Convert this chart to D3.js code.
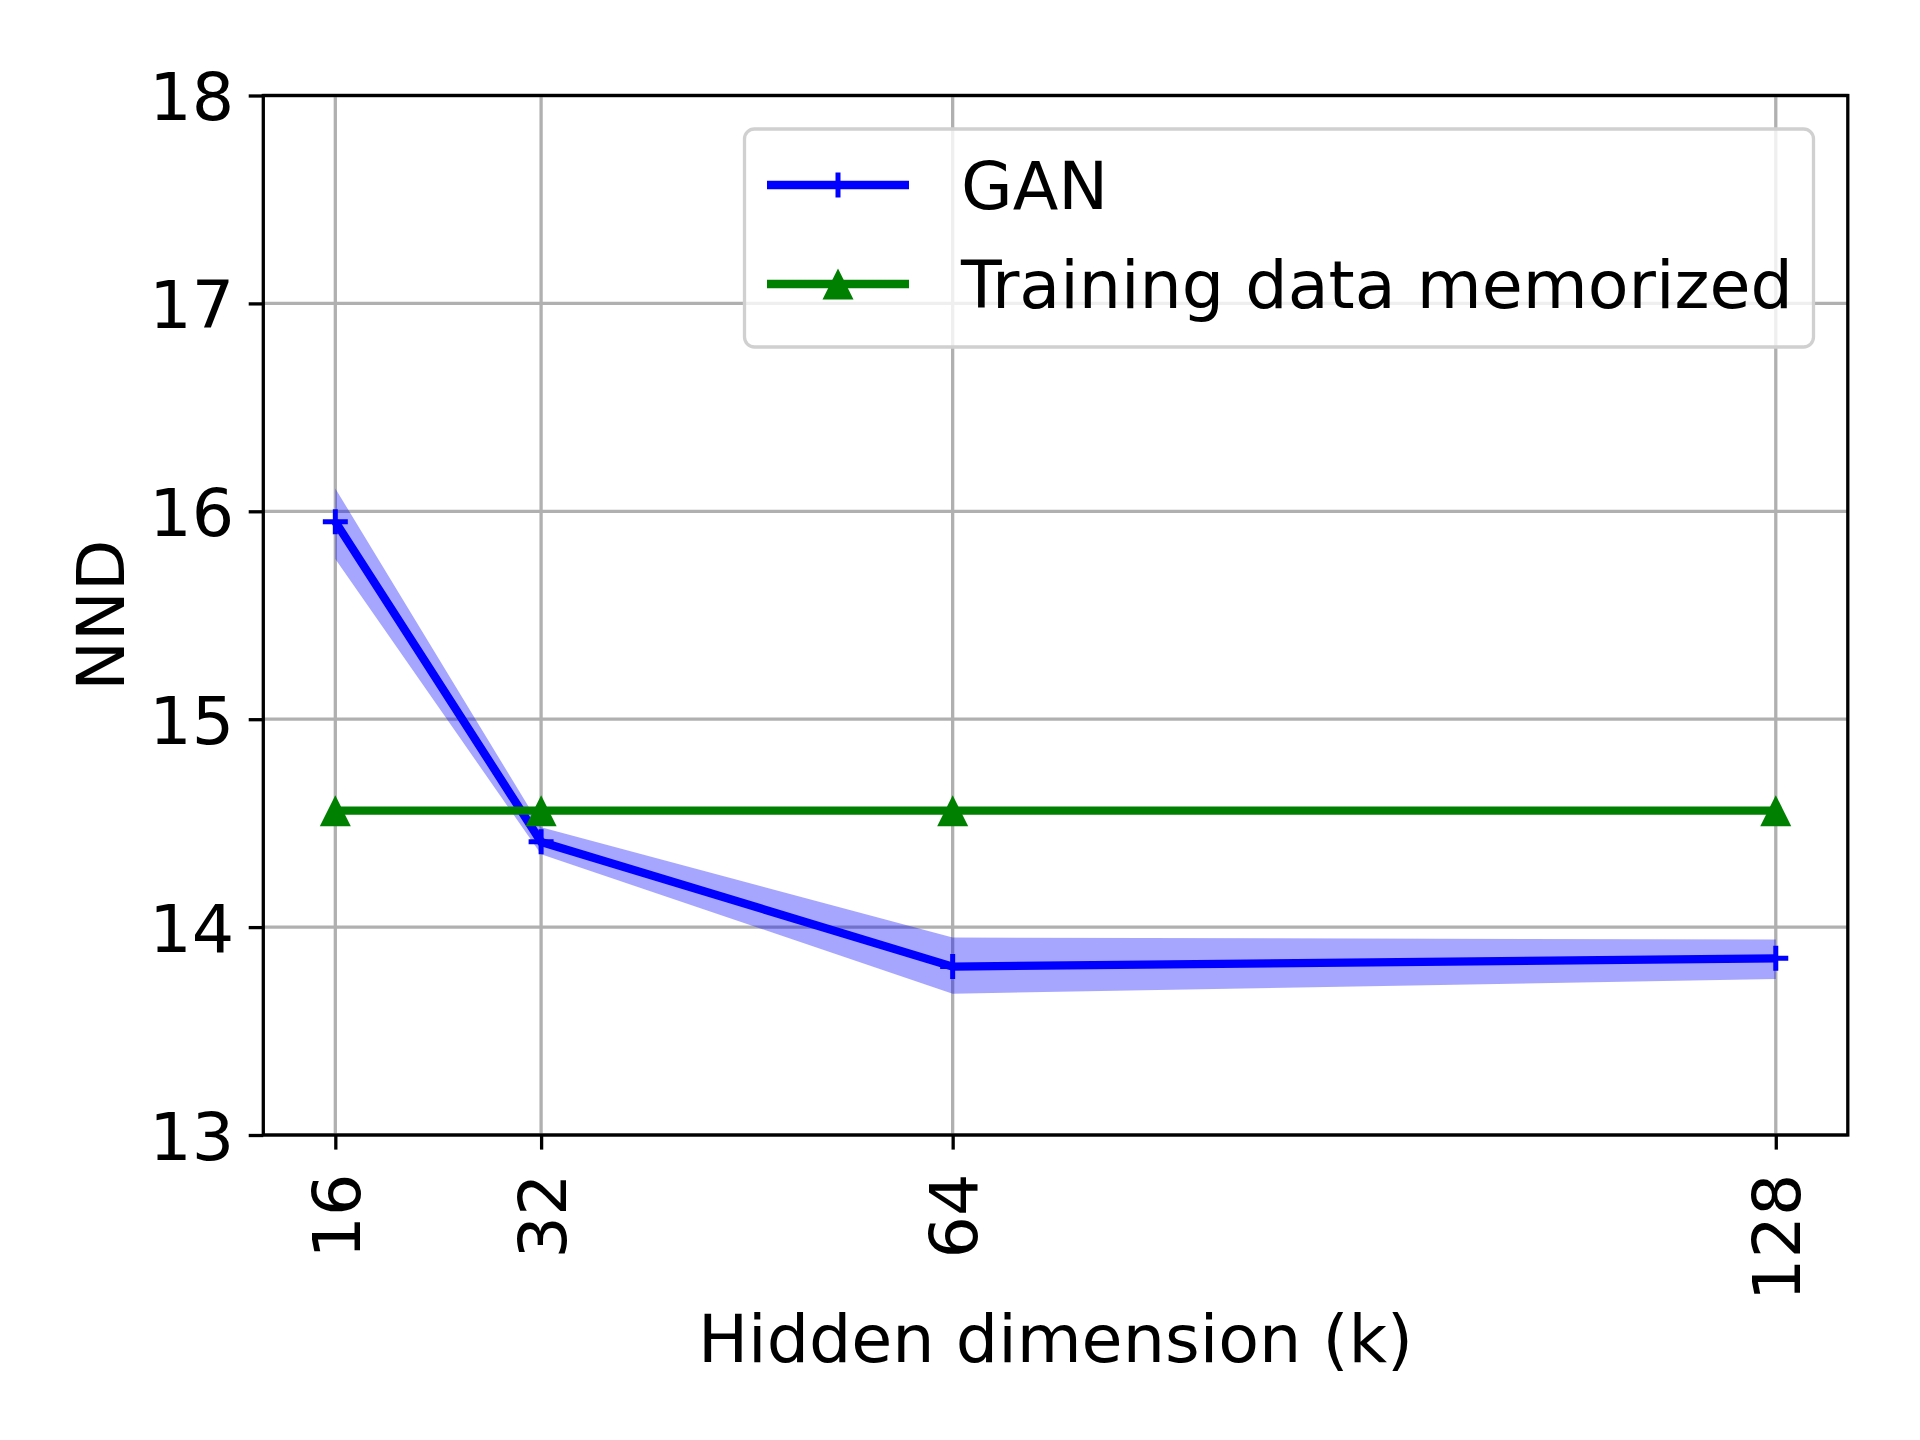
<!DOCTYPE html>
<html><head><meta charset="utf-8">
<script src="https://cdn.jsdelivr.net/npm/d3@7"></script>
<style>body{margin:0;background:#fff}svg{display:block}text{font-family:"DejaVu Sans",sans-serif}</style>
</head><body>
<script>
const hiddenDims = [16, 32, 64, 128];
const ganMean = [15.95, 14.41, 13.81, 13.85];
const ganUpper = [16.11, 14.48, 13.95, 13.94];
const ganLower = [15.77, 14.35, 13.68, 13.75];
const memorized = [14.56, 14.56, 14.56, 14.56];
const yTicks = [13, 14, 15, 16, 17, 18];
const seriesNames = ["GAN", "Training data memorized"];

const W = 1920, H = 1440;
const M = {left: 263.3, right: 1847.8, top: 95.5, bottom: 1135};
const svg = d3.select("body").append("svg").attr("width", W).attr("height", H);
const x = d3.scaleLinear().domain([10.4, 133.6]).range([M.left, M.right]);
const y = d3.scaleLinear().domain([13, 18]).range([M.bottom, M.top]);
const FS = 66.7, TL = 14.6, LW_AX = 3.3, LW = 8.3;

// grid
const g = svg.append("g");
g.selectAll(".gx").data(hiddenDims).join("line")
  .attr("x1", d => x(d)).attr("x2", d => x(d)).attr("y1", M.top).attr("y2", M.bottom)
  .attr("stroke", "#b0b0b0").attr("stroke-width", 3.3);
g.selectAll(".gy").data(yTicks).join("line")
  .attr("y1", d => y(d)).attr("y2", d => y(d)).attr("x1", M.left).attr("x2", M.right)
  .attr("stroke", "#b0b0b0").attr("stroke-width", 3.3);

svg.append("defs").append("clipPath").attr("id", "c").append("rect")
  .attr("x", M.left).attr("y", M.top).attr("width", M.right - M.left).attr("height", M.bottom - M.top);
const plot = svg.append("g").attr("clip-path", "url(#c)");

// band
const idx = hiddenDims.map((d, i) => i);
plot.append("path").datum(idx)
  .attr("d", d3.area().x(i => x(hiddenDims[i])).y0(i => y(ganLower[i])).y1(i => y(ganUpper[i])))
  .attr("fill", "#0000ff").attr("fill-opacity", 0.35).attr("stroke", "none");

// GAN line
plot.append("path").datum(idx)
  .attr("d", d3.line().x(i => x(hiddenDims[i])).y(i => y(ganMean[i])))
  .attr("fill", "none").attr("stroke", "#0000ff").attr("stroke-width", LW);
const plusSize = 25;
function plus(sel, cx, cy) {
  sel.append("path").attr("d", `M${cx - plusSize/2},${cy}H${cx + plusSize/2}M${cx},${cy - plusSize/2}V${cy + plusSize/2}`)
    .attr("stroke", "#0000ff").attr("stroke-width", 5).attr("fill", "none");
}
idx.forEach(i => plus(plot, x(hiddenDims[i]), y(ganMean[i])));

// memorized line
plot.append("path").datum(idx)
  .attr("d", d3.line().x(i => x(hiddenDims[i])).y(i => y(memorized[i])))
  .attr("fill", "none").attr("stroke", "#008000").attr("stroke-width", LW);
const triS = 31;
function tri(sel, cx, cy) {
  sel.append("path").attr("d", `M${cx},${cy - triS/2}L${cx + triS/2},${cy + triS/2}L${cx - triS/2},${cy + triS/2}Z`)
    .attr("fill", "#008000");
}
idx.forEach(i => tri(plot, x(hiddenDims[i]), y(memorized[i])));

// spines
svg.append("rect").attr("x", M.left).attr("y", M.top).attr("width", M.right - M.left).attr("height", M.bottom - M.top)
  .attr("fill", "none").attr("stroke", "#000").attr("stroke-width", LW_AX);

// y axis
const yAxis = d3.axisLeft(y).tickValues(yTicks).tickSize(TL).tickPadding(14.6).tickFormat(d3.format("d"));
const ya = svg.append("g").attr("transform", `translate(${M.left},0)`).call(yAxis);
ya.select(".domain").remove();
ya.selectAll("line").attr("stroke", "#000").attr("stroke-width", LW_AX);
ya.selectAll("text").attr("font-size", FS).attr("fill", "#000").attr("font-family", "DejaVu Sans").attr("dy", "0.36em");

// x axis
const xAxis = d3.axisBottom(x).tickValues(hiddenDims).tickSize(TL).tickPadding(0).tickFormat(d3.format("d"));
const xa = svg.append("g").attr("transform", `translate(0,${M.bottom})`).call(xAxis);
xa.select(".domain").remove();
xa.selectAll("line").attr("stroke", "#000").attr("stroke-width", LW_AX);
xa.selectAll("text").attr("font-size", FS).attr("fill", "#000").attr("font-family", "DejaVu Sans")
  .attr("text-anchor", "end").attr("y", 0).attr("dy", "0.36em")
  .attr("transform", `translate(0,${TL + 24}) rotate(-90)`);

// axis labels
svg.append("text").attr("x", (M.left + M.right) / 2).attr("y", 1362).attr("text-anchor", "middle")
  .attr("font-size", FS).text("Hidden dimension (k)");
svg.append("text").attr("transform", `translate(124,${(M.top + M.bottom) / 2}) rotate(-90)`)
  .attr("text-anchor", "middle").attr("font-size", FS).text("NND");

// legend
const lg = svg.append("g");
lg.append("rect").attr("x", 744.5).attr("y", 129).attr("width", 1069).attr("height", 218).attr("rx", 10)
  .attr("fill", "#fff").attr("fill-opacity", 0.8).attr("stroke", "#d0d0d0").attr("stroke-width", 3.3);
const rows = [185, 284];
lg.append("line").attr("x1", 767).attr("x2", 909).attr("y1", rows[0]).attr("y2", rows[0])
  .attr("stroke", "#0000ff").attr("stroke-width", LW);
plus(lg, 838, rows[0]);
lg.append("line").attr("x1", 767).attr("x2", 909).attr("y1", rows[1]).attr("y2", rows[1])
  .attr("stroke", "#008000").attr("stroke-width", LW);
tri(lg, 838, rows[1]);
seriesNames.forEach((n, i) => {
  lg.append("text").attr("x", 961).attr("y", rows[i]).attr("dy", "0.36em").attr("font-size", FS).text(n);
});
</script>
</body></html>
